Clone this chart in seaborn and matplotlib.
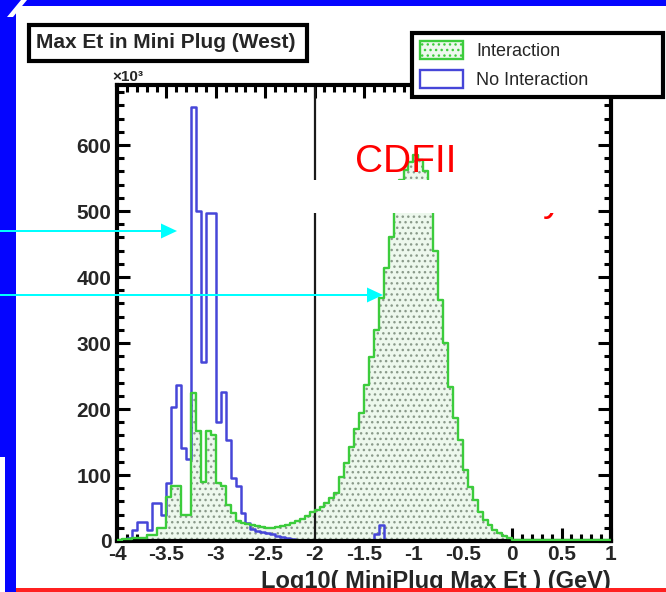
import numpy as np
import pandas as pd
import matplotlib
matplotlib.use("Agg")
import matplotlib.pyplot as plt
import seaborn as sns
from matplotlib.patches import Rectangle, Polygon, Patch
from matplotlib.ticker import MultipleLocator, FuncFormatter

# ---- histogram definition: 100 bins of log10(Et) from -4 to 1 ----
bin_lo, bin_hi, n_bins = -4.0, 1.0, 100
bin_width = (bin_hi - bin_lo) / n_bins

# bin contents (units of 10^3 events), bins 0..99
interaction = [
    2, 3, 3, 4, 4, 5, 9, 9, 20, 20,
    67, 83, 83, 39, 39, 224, 166, 90, 166, 160,
    88, 84, 55, 42, 30, 28, 26, 24, 22, 21,
    20, 20, 21, 22, 24, 27, 31, 33, 38, 44,
    47, 52, 57, 65, 73, 97, 118, 143, 170, 194,
    236, 279, 320, 368, 413, 460, 505, 547, 562, 575,
    585, 578, 560, 520, 440, 365, 300, 234, 186, 153,
    108, 82, 62, 44, 32, 24, 17, 12, 7, 4,
    2, 2, 2, 2, 2, 2, 2, 2, 2, 2,
    2, 2, 2, 2, 2, 2, 2, 2, 2, 2,
]
no_interaction = [
    0, 0, 5, 17, 29, 29, 16, 58, 58, 39,
    88, 203, 236, 141, 125, 657, 500, 272, 497, 497,
    181, 226, 153, 95, 83, 42, 27, 18, 15, 14,
    12, 10, 8, 6, 5, 3, 2, 0, 0, 0,
    0, 0, 0, 0, 0, 0, 0, 0, 0, 0,
    0, 0, 10, 25, 0, 0, 0, 0, 0, 0,
    0, 0, 0, 0, 0, 0, 0, 0, 0, 0,
    0, 0, 0, 0, 0, 0, 0, 0, 0, 0,
    0, 0, 0, 0, 0, 0, 0, 0, 0, 0,
    0, 0, 0, 0, 0, 0, 0, 0, 0, 0,
]
series_labels = ["Interaction", "No Interaction"]
title_text = "Max Et in Mini Plug (West)"
x_label = "Log10( MiniPlug Max Et ) (GeV)"
y_multiplier = "\u00d710\u00b3"
x_limits = (-4, 1)
y_limits = (0, 691)
cut_value = -2.0

centers = bin_lo + bin_width * (np.arange(n_bins) + 0.5)
df = pd.DataFrame({"log_et": centers,
                   "Interaction": interaction,
                   "No Interaction": no_interaction})
hist_kw = dict(data=df, x="log_et", binwidth=bin_width,
               binrange=(bin_lo, bin_hi), element="step")

# ---- colours ----
GREEN = "#3ccc3c"
GREEN_FILL = "#edf8ed"
DOTS = "#8a9a8a"
BLUE_LINE = "#4646d8"
SLIDE_BLUE = "#0505ff"
CYAN = "#00ffff"

sns.set_style("ticks")
plt.rcParams["font.family"] = ["Liberation Sans", "DejaVu Sans"]
plt.rcParams["axes.unicode_minus"] = False
plt.rcParams["hatch.linewidth"] = 1.0

W, H = 666, 592
fig = plt.figure(figsize=(W / 100, H / 100), dpi=100)
fig.patch.set_facecolor("white")


def fx(x):
    return x / W


def fy(y):
    return 1 - y / H


def add_rect(x0, y0, x1, y1, **kw):
    r = Rectangle((fx(x0), fy(y1)), (x1 - x0) / W, (y1 - y0) / H,
                  transform=fig.transFigure, **kw)
    fig.add_artist(r)
    return r


def add_poly(pts, **kw):
    p = Polygon([(fx(a), fy(b)) for a, b in pts], closed=True,
                transform=fig.transFigure, **kw)
    fig.add_artist(p)
    return p


# ---- main axes (frame in pixel coordinates of the slide) ----
ax_l, ax_r, ax_t, ax_b = 117, 611, 85, 541
ax = fig.add_axes([fx(ax_l), fy(ax_b), (ax_r - ax_l) / W, (ax_b - ax_t) / H])
ax.set_facecolor("white")

# filled, dotted Interaction histogram
sns.histplot(weights="Interaction", fill=True, color=GREEN_FILL, alpha=1,
             linewidth=0, ax=ax, **hist_kw)
poly = ax.collections[-1]
poly.set_facecolor(GREEN_FILL)
poly.set_edgecolor(DOTS)
poly.set_linewidth(0)
poly.set_hatch("...")
poly.set_zorder(1)

# No Interaction outline
sns.histplot(weights="No Interaction", fill=False, color=BLUE_LINE,
             linewidth=1.8, ax=ax, **hist_kw)
for ln in ax.lines:
    ln.set_zorder(2)

# Interaction outline
n_before = len(ax.lines)
sns.histplot(weights="Interaction", fill=False, color=GREEN,
             linewidth=1.7, ax=ax, **hist_kw)
for ln in ax.lines[n_before:]:
    ln.set_zorder(3)

# selection cut
ax.axvline(cut_value, color="#1a1a1a", lw=1.6, zorder=2.2)

ax.set_xlim(*x_limits)
ax.set_ylim(*y_limits)
ax.set_ylabel("")
ax.set_xlabel(x_label, loc="right", fontsize=17, fontweight="bold",
              labelpad=4)

ax.xaxis.set_major_locator(MultipleLocator(0.5))
ax.xaxis.set_minor_locator(MultipleLocator(0.1))
ax.yaxis.set_major_locator(MultipleLocator(100))
ax.yaxis.set_minor_locator(MultipleLocator(20))
ax.xaxis.set_major_formatter(FuncFormatter(lambda v, p: f"{v:g}"))
ax.yaxis.set_major_formatter(FuncFormatter(lambda v, p: f"{v:g}"))

ax.tick_params(which="both", direction="in", top=True, right=True,
               color="black", width=2.2)
ax.tick_params(which="major", length=9.5, labelsize=15, pad=3)
ax.tick_params(axis="y", which="major", pad=4)
ax.tick_params(which="minor", length=5)
for lbl in ax.get_xticklabels() + ax.get_yticklabels():
    lbl.set_fontweight("bold")
for sp in ax.spines.values():
    sp.set_visible(True)
    sp.set_linewidth(3)
    sp.set_color("black")

# exponent of the y axis
fig.text(fx(112), fy(81), y_multiplier, fontsize=11, fontweight="bold",
         ha="left", va="baseline")

# ---- slide annotations ----
fig.text(fx(355), fy(172), "CDFII", color="red", fontsize=28,
         ha="left", va="baseline", zorder=10)
fig.text(fx(543), fy(211), "y", color="red", fontsize=28,
         ha="left", va="baseline", zorder=10)
add_rect(300, 180, 588, 213, facecolor="white", edgecolor="none", zorder=11)

# title box
add_rect(29, 25, 307, 61, facecolor="white", edgecolor="black",
         linewidth=3, zorder=12)
fig.text(fx(166), fy(43), title_text, fontsize=15, fontweight="bold",
         ha="center", va="center", zorder=13)

# legend
handles = [
    Patch(facecolor=GREEN_FILL, edgecolor=GREEN, hatch="...", linewidth=1.7),
    Patch(facecolor="white", edgecolor=BLUE_LINE, linewidth=1.7),
]
leg = fig.legend(handles, series_labels, loc="upper left",
                 bbox_to_anchor=(fx(412), fy(33), (663 - 412) / W, 0.0),
                 mode="expand", borderaxespad=0, fontsize=13,
                 frameon=True, fancybox=False, edgecolor="black",
                 framealpha=1, handlelength=2.4, handleheight=1.15,
                 handletextpad=0.7, labelspacing=0.55, borderpad=0.45)
leg.get_frame().set_linewidth(3)
leg.set_zorder(12)

# slide border
add_rect(0, 0, W, 6, facecolor=SLIDE_BLUE, edgecolor="none", zorder=20)
add_rect(0, 0, 16, 457, facecolor=SLIDE_BLUE, edgecolor="none", zorder=20)
add_rect(5, 457, 16, H, facecolor=SLIDE_BLUE, edgecolor="none", zorder=20)
add_poly([(7, 17), (13, 17), (27, 0), (21, 0)], facecolor="white",
         edgecolor="none", zorder=21)
add_rect(16, 588, W, H, facecolor="#ff2020", edgecolor="none", zorder=20)

# pointer arrows
for (x_tip, y_mid) in [(177, 231), (383, 295)]:
    add_rect(0, y_mid - 1.2, x_tip - 14, y_mid + 1.2, facecolor=CYAN,
             edgecolor="none", zorder=22)
    add_poly([(x_tip - 16, y_mid - 7.5), (x_tip, y_mid),
              (x_tip - 16, y_mid + 7.5)], facecolor=CYAN,
             edgecolor="none", zorder=22)

fig.savefig("out.png", dpi=100)
